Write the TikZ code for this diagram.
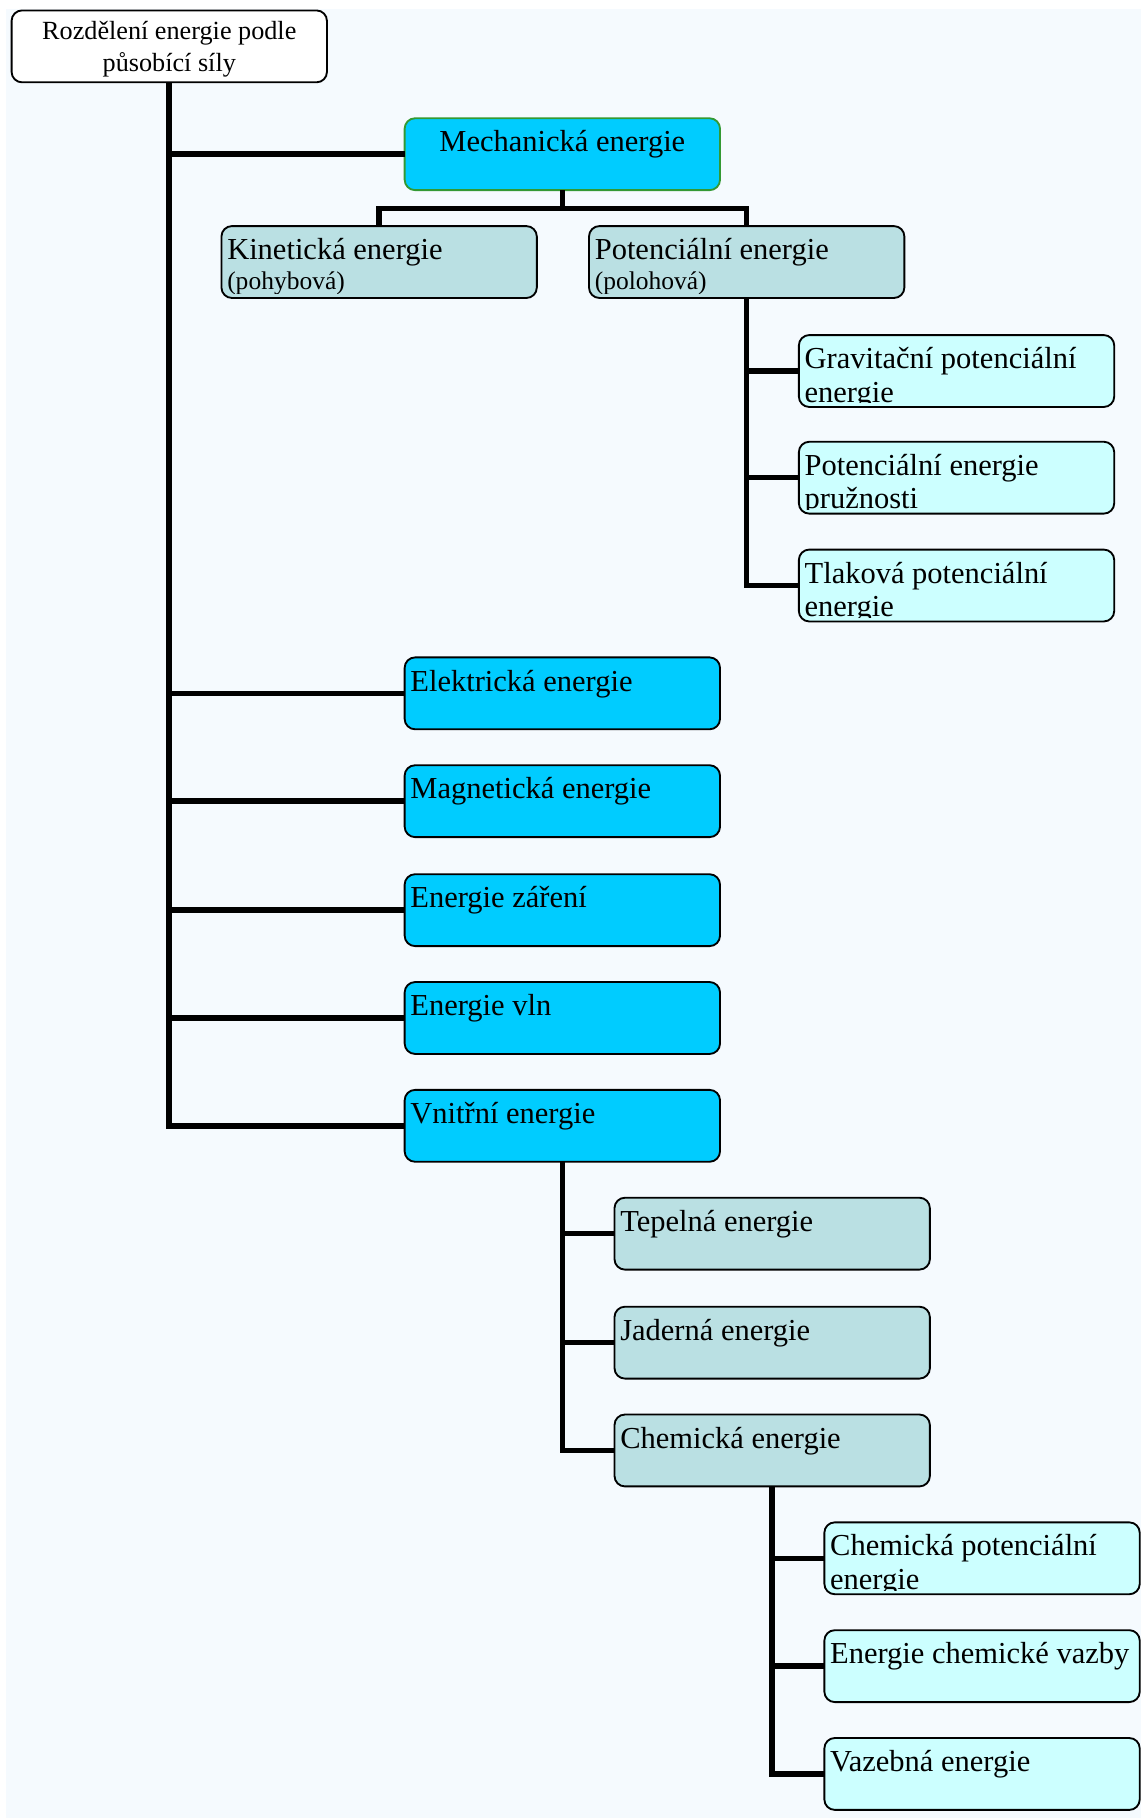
\documentclass[tikz,border=0pt]{standalone}
\usepackage{fontspec}
\setmainfont{Liberation Serif}
\usetikzlibrary{calc}
\definecolor{bgc}{HTML}{F5FAFE}
\definecolor{cy}{HTML}{00CCFF}
\definecolor{tl}{HTML}{BAE0E3}
\definecolor{lc}{HTML}{CCFFFF}
\definecolor{grn}{HTML}{339933}
\tikzset{
  bx/.style={draw=black, line width=0.8pt, rounded corners=4.5pt, minimum width=136pt,
    minimum height=31pt, inner sep=0pt, outer sep=0pt, anchor=north west},
  conn/.style={draw=black, line width=2.4pt},
  txt/.style={inner sep=0pt, font=\fontsize{13.15}{14.4}\selectfont, anchor=base west},
  sml/.style={inner sep=0pt, font=\fontsize{11}{13}\selectfont, anchor=base west},
  roottxt/.style={inner sep=0pt, font=\fontsize{11.3}{13.6}\selectfont, anchor=base},
}
\newcommand\boxone[5]{%
  \node[bx, fill=#4] (#1) at (#2,-#3) {};
  \node[txt] (#1-a) at ([xshift=2.3pt,yshift=-14.5pt]#1.north west) {#5};}
\newcommand\boxtwo[6]{%
  \node[bx, fill=#4] (#1) at (#2,-#3) {};
  \begin{scope}
    \clip ([yshift=1.8pt]#1.south west) rectangle (#1.north east);
    \node[txt] (#1-a) at ([xshift=2.3pt,yshift=-14.5pt]#1.north west) {#5};
    \node[txt] (#1-b) at ([xshift=2.3pt,yshift=-28.9pt]#1.north west) {#6};
  \end{scope}}
\newcommand\boxsmall[6]{%
  \node[bx, fill=#4] (#1) at (#2,-#3) {};
  \begin{scope}
    \clip ([yshift=2.1pt]#1.south west) rectangle (#1.north east);
    \node[txt] (#1-a) at ([xshift=2.3pt,yshift=-14.5pt]#1.north west) {#5};
    \node[sml] (#1-b) at ([xshift=2.3pt,yshift=-27.3pt]#1.north west) {#6};
  \end{scope}}
\begin{document}
\begin{tikzpicture}[x=0.5pt,y=0.5pt]
\useasboundingbox (0,0) rectangle (984,-1568);
\fill[white] (0,0) rectangle (984,-1568);
\fill[bgc] (5.2,-7.8) rectangle (984,-1568);

% root
\node[bx, fill=white] (root) at (10,-9) {};
\node[roottxt] (root-a) at ([yshift=-12.5pt]root.north) {Rozdělení energie podle};
\node[roottxt] (root-b) at ([yshift=-26.2pt]root.north) {působící síly};

% mechanical
\node[bx, fill=cy, draw=grn] (mech) at (349,-102) {};
\node[txt, anchor=base] (mech-a) at ([yshift=-14.5pt]mech.north) {Mechanická energie};

\boxsmall{kin}{191}{195}{tl}{Kinetická energie}{(pohybová)}
\boxsmall{pot}{508}{195}{tl}{Potenciální energie}{(polohová)}

\boxtwo{grav}{689}{289}{lc}{Gravitační potenciální}{energie}
\boxtwo{pruz}{689}{381}{lc}{Potenciální energie}{pružnosti}
\boxtwo{tlak}{689}{474}{lc}{Tlaková potenciální}{energie}

\boxone{elek}{349}{567}{cy}{Elektrická energie}
\boxone{magn}{349}{660}{cy}{Magnetická energie}
\boxone{zar}{349}{754}{cy}{Energie záření}
\boxone{vln}{349}{847}{cy}{Energie vln}
\boxone{vnit}{349}{940}{cy}{Vnitřní energie}

\boxone{tep}{530}{1033}{tl}{Tepelná energie}
\boxone{jad}{530}{1127}{tl}{Jaderná energie}
\boxone{chem}{530}{1220}{tl}{Chemická energie}

\boxtwo{chpot}{711}{1313}{lc}{Chemická potenciální}{energie}
\boxone{vaz}{711}{1406}{lc}{Energie chemické vazby}
\boxone{vazb}{711}{1499}{lc}{Vazebná energie}

% connectors
\draw[conn] (root.south) |- (mech.west);
\draw[conn] (root.south) |- (elek.west);
\draw[conn] (root.south) |- (magn.west);
\draw[conn] (root.south) |- (zar.west);
\draw[conn] (root.south) |- (vln.west);
\draw[conn] (root.south) |- (vnit.west);

\coordinate (mbar) at ($(mech.south)+(0,-16)$);
\draw[conn] (mech.south) -- (mbar) -| (kin.north);
\draw[conn] (mbar) -| (pot.north);

\draw[conn] (pot.south) |- (grav.west);
\draw[conn] (pot.south) |- (pruz.west);
\draw[conn] (pot.south) |- (tlak.west);

\draw[conn] (vnit.south) |- (tep.west);
\draw[conn] (vnit.south) |- (jad.west);
\draw[conn] (vnit.south) |- (chem.west);

\draw[conn] (chem.south) |- (chpot.west);
\draw[conn] (chem.south) |- (vaz.west);
\draw[conn] (chem.south) |- (vazb.west);
\end{tikzpicture}
\end{document}
